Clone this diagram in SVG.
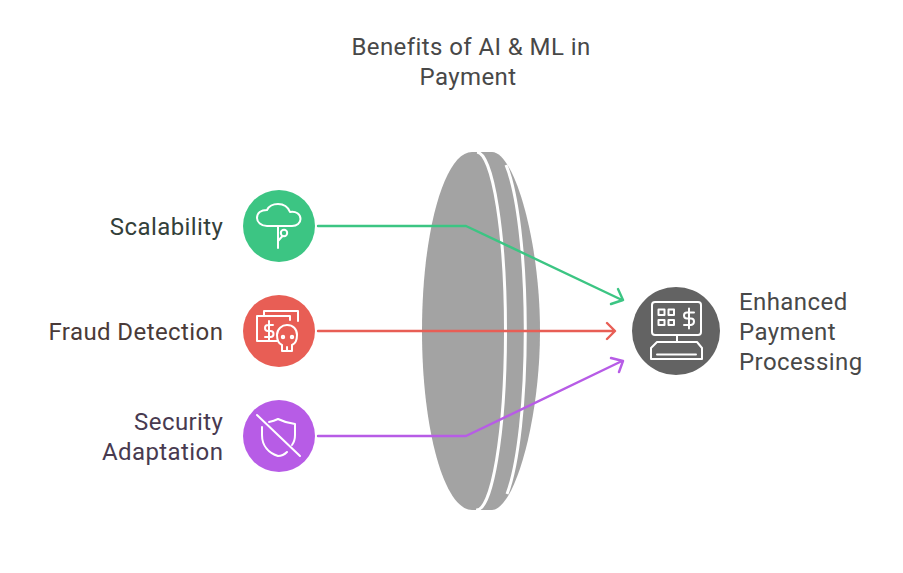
<svg xmlns="http://www.w3.org/2000/svg" width="903" height="573" viewBox="0 0 903 573">
<style>
text{font-family:Roboto,"Liberation Sans",sans-serif;font-size:24px;letter-spacing:.42px}
.i{fill:none;stroke:#fff;stroke-width:2;stroke-linecap:round;stroke-linejoin:round}
.c{fill:none;stroke-width:2.4;stroke-linecap:round;stroke-linejoin:round}
</style>
<rect width="903" height="573" fill="#fff"/>
<g id="title"><text x="471" y="55" text-anchor="middle" fill="#484848">Benefits of AI &amp; ML in</text><text x="468" y="85" text-anchor="middle" fill="#484848">Payment</text></g>
<g id="lens">
<path fill="#a3a3a3" d="M472 152H492C514 152 540 240 540 331S514 510 492 510H472C444.400 510 422 429.900 422 331S444.400 152 472 152Z"/>
<path fill="none" stroke="#fff" stroke-width="3" d="M477 152A29 179 0 0 1 476 510"/>
<path fill="none" stroke="#fff" stroke-width="3" d="M506 165A31 179 0 0 1 507 494"/>
</g>
<g id="connectors">
<path class="c" stroke="#3cc583" d="M318 226H466L622 300M618 289L623 300L611 304"/>
<path class="c" stroke="#e85e55" d="M318 331H614M607 323L615 331L607 339"/>
<path class="c" stroke="#b75ce6" d="M318 436H466L622 361M611 358L623 361L619 372"/>
</g>
<g id="scalability">
<circle cx="279" cy="226" r="36" fill="#3cc583"/>
<path class="i" d="M267 226C261 226 257 222 257 218C257 213 261 210 267 210C269 206 273 204 278 204C284 204 288 207 290 212C296 211 300.500 214 300.500 219C300.500 223 297 226 292 226Z"/>
<path class="i" d="M278 226V248M278 241L282.500 236"/>
<circle class="i" cx="284" cy="233" r="3.200"/>
<text x="223.400" y="235" text-anchor="end" fill="#33403a">Scalability</text>
</g>
<g id="fraud">
<circle cx="279" cy="331" r="36" fill="#e85e55"/>
<path class="i" d="M264 316V311H298V321M277 341H257V316H290V320"/>
<path class="i" d="M273 325H268Q265 325 265 328T268 331H270.500Q273.500 331 273.500 334T270.500 337H265M269 321V340"/>
<path class="i" d="M282 351V345Q277 343 277 335C277 329 282 325 287 325C293 325 297 329 297 335Q297 343 292 345V351Z"/>
<circle class="i" cx="283" cy="337" r="1.200"/><circle class="i" cx="292" cy="337" r="1.200"/>
<path class="i" d="M287 347V351"/>
<text x="223.400" y="340" text-anchor="end" fill="#4a3a38">Fraud Detection</text>
</g>
<g id="security">
<circle cx="279" cy="436" r="36" fill="#b75ce6"/>
<path class="i" d="M257 415L300 456"/>
<path class="i" d="M262 427V435C262 446 269 453 278 456C282 456 285 454 287 452M269 422Q274 421 278 419Q286 423 295 424V435Q295 441 292 445"/>
<text x="223.400" y="430" text-anchor="end" fill="#483a50">Security</text>
<text x="223.400" y="460" text-anchor="end" fill="#483a50">Adaptation</text>
</g>
<g id="enhanced">
<circle cx="676" cy="331" r="44" fill="#636363"/>
<rect class="i" x="652" y="302" width="49" height="33" rx="3"/>
<rect class="i" x="658.500" y="309.500" width="6" height="5.500"/><rect class="i" x="668.500" y="309.500" width="5.500" height="5.500"/>
<rect class="i" x="658.500" y="320" width="6" height="5"/><rect class="i" x="668.500" y="320" width="5.500" height="5"/>
<path class="i" d="M694 312.500H687Q684 312.500 684 315.500T687 318.500H691Q694 318.500 694 321.500T691 325H684M689 308.500V328.500"/>
<path class="i" d="M677 335V342M657 342H697L702 348V359H651V348Z"/>
<path class="i" d="M657 354.500H696"/>
<text x="739" y="310" fill="#484848">Enhanced</text><text x="739" y="340" fill="#484848">Payment</text><text x="739" y="370" fill="#484848">Processing</text>
</g>
</svg>
